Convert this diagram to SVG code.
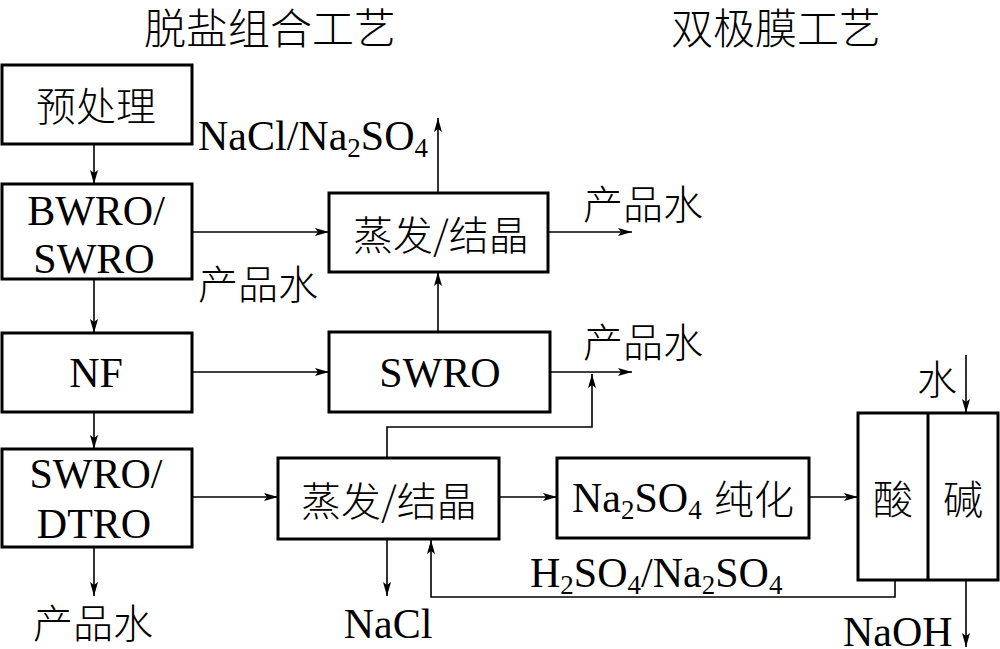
<svg xmlns="http://www.w3.org/2000/svg" width="1000" height="649" viewBox="0 0 1000 649">
<style>
.box{fill:#fff;stroke:#000;stroke-width:3}
.ln{fill:none;stroke:#000;stroke-width:1.6}
.t{font-family:"Liberation Serif","Noto Sans CJK SC",serif;font-size:42px;fill:#000}
.c{font-family:"Noto Sans CJK SC","Liberation Serif",sans-serif;font-size:40px;font-weight:300;fill:#000;dominant-baseline:central;text-anchor:middle}
.m{text-anchor:middle}
</style>
<defs>
<marker id="a" viewBox="0 0 14 8" refX="14" refY="4" markerWidth="14" markerHeight="8" orient="auto" markerUnits="userSpaceOnUse">
<path d="M0,0 L14,4 L0,8 L3,4 z" fill="#000"/>
</marker>
</defs>
<rect width="1000" height="649" fill="#fff"/>
<g id="titles">
<text class="c" x="270" y="25" style="font-size:42px">脱盐组合工艺</text>
<text class="c" x="776" y="25" style="font-size:42px">双极膜工艺</text>
</g>
<g id="connectors">
<path class="ln" d="M94,144 V184" marker-end="url(#a)"/>
<path class="ln" d="M94,279 V333" marker-end="url(#a)"/>
<path class="ln" d="M94,412 V449" marker-end="url(#a)"/>
<path class="ln" d="M94,547 V596" marker-end="url(#a)"/>
<path class="ln" d="M192,232 H329" marker-end="url(#a)"/>
<path class="ln" d="M192,372 H329" marker-end="url(#a)"/>
<path class="ln" d="M192,497 H278" marker-end="url(#a)"/>
<path class="ln" d="M438,193 V118" marker-end="url(#a)"/>
<path class="ln" d="M438,332 V272" marker-end="url(#a)"/>
<path class="ln" d="M548,232 H632" marker-end="url(#a)"/>
<path class="ln" d="M550,372 H632" marker-end="url(#a)"/>
<path class="ln" d="M387,458 V427 H592 V374" marker-end="url(#a)"/>
<path class="ln" d="M499,497 H557" marker-end="url(#a)"/>
<path class="ln" d="M809,497 H858" marker-end="url(#a)"/>
<path class="ln" d="M387,539 V596" marker-end="url(#a)"/>
<path class="ln" d="M895,580 V597 H431 V540" marker-end="url(#a)"/>
<path class="ln" d="M966,355 V413" marker-end="url(#a)"/>
<path class="ln" d="M966,580 V647" marker-end="url(#a)"/>
</g>
<g id="pretreat">
<rect class="box" x="2" y="65" width="190" height="79"/>
<text class="c" x="96" y="104">预处理</text>
</g>
<g id="bwro">
<rect class="box" x="2" y="184" width="190" height="95"/>
<text class="t m" x="96" y="225">BWRO/</text>
<text class="t m" x="94" y="273">SWRO</text>
</g>
<g id="nf">
<rect class="box" x="2" y="333" width="190" height="79"/>
<text class="t m" x="96" y="387">NF</text>
</g>
<g id="swrodtro">
<rect class="box" x="2" y="449" width="190" height="98"/>
<text class="t m" x="96" y="488">SWRO/</text>
<text class="t m" x="94" y="538">DTRO</text>
</g>
<g id="evap1">
<rect class="box" x="329" y="193" width="219" height="79"/>
<text class="c" x="441" y="233">蒸发/结晶</text>
</g>
<g id="swro">
<rect class="box" x="329" y="332" width="221" height="80"/>
<text class="t m" x="440" y="387">SWRO</text>
</g>
<g id="evap2">
<rect class="box" x="278" y="458" width="221" height="81"/>
<text class="c" x="389" y="499">蒸发/结晶</text>
</g>
<g id="purify">
<rect class="box" x="557" y="458" width="252" height="80"/>
<text class="t" x="572" y="512">Na<tspan font-size="27" dy="7">2</tspan><tspan dy="-7">SO</tspan><tspan font-size="27" dy="7">4</tspan><tspan dy="-7"> </tspan></text>
<text class="c" x="754" y="497">纯化</text>
</g>
<g id="bpm">
<rect class="box" x="858" y="413" width="140" height="167"/>
<line x1="928" y1="413" x2="928" y2="580" stroke="#000" stroke-width="3"/>
<text class="c" x="893" y="497">酸</text>
<text class="c" x="963" y="497">碱</text>
</g>
<g id="labels">
<text class="t" x="198" y="150">NaCl/Na<tspan font-size="27" dy="7">2</tspan><tspan dy="-7">SO</tspan><tspan font-size="27" dy="7">4</tspan></text>
<text class="c" x="258" y="282">产品水</text>
<text class="c" x="643" y="202">产品水</text>
<text class="c" x="643" y="340">产品水</text>
<text class="c" x="937" y="377">水</text>
<text class="c" x="93" y="621">产品水</text>
<text class="t m" x="388" y="638">NaCl</text>
<text class="t" x="530" y="587">H<tspan font-size="27" dy="7">2</tspan><tspan dy="-7">SO</tspan><tspan font-size="27" dy="7">4</tspan><tspan dy="-7">/Na</tspan><tspan font-size="27" dy="7">2</tspan><tspan dy="-7">SO</tspan><tspan font-size="27" dy="7">4</tspan></text>
<text class="t" x="843" y="646">NaOH</text>
</g>
</svg>
